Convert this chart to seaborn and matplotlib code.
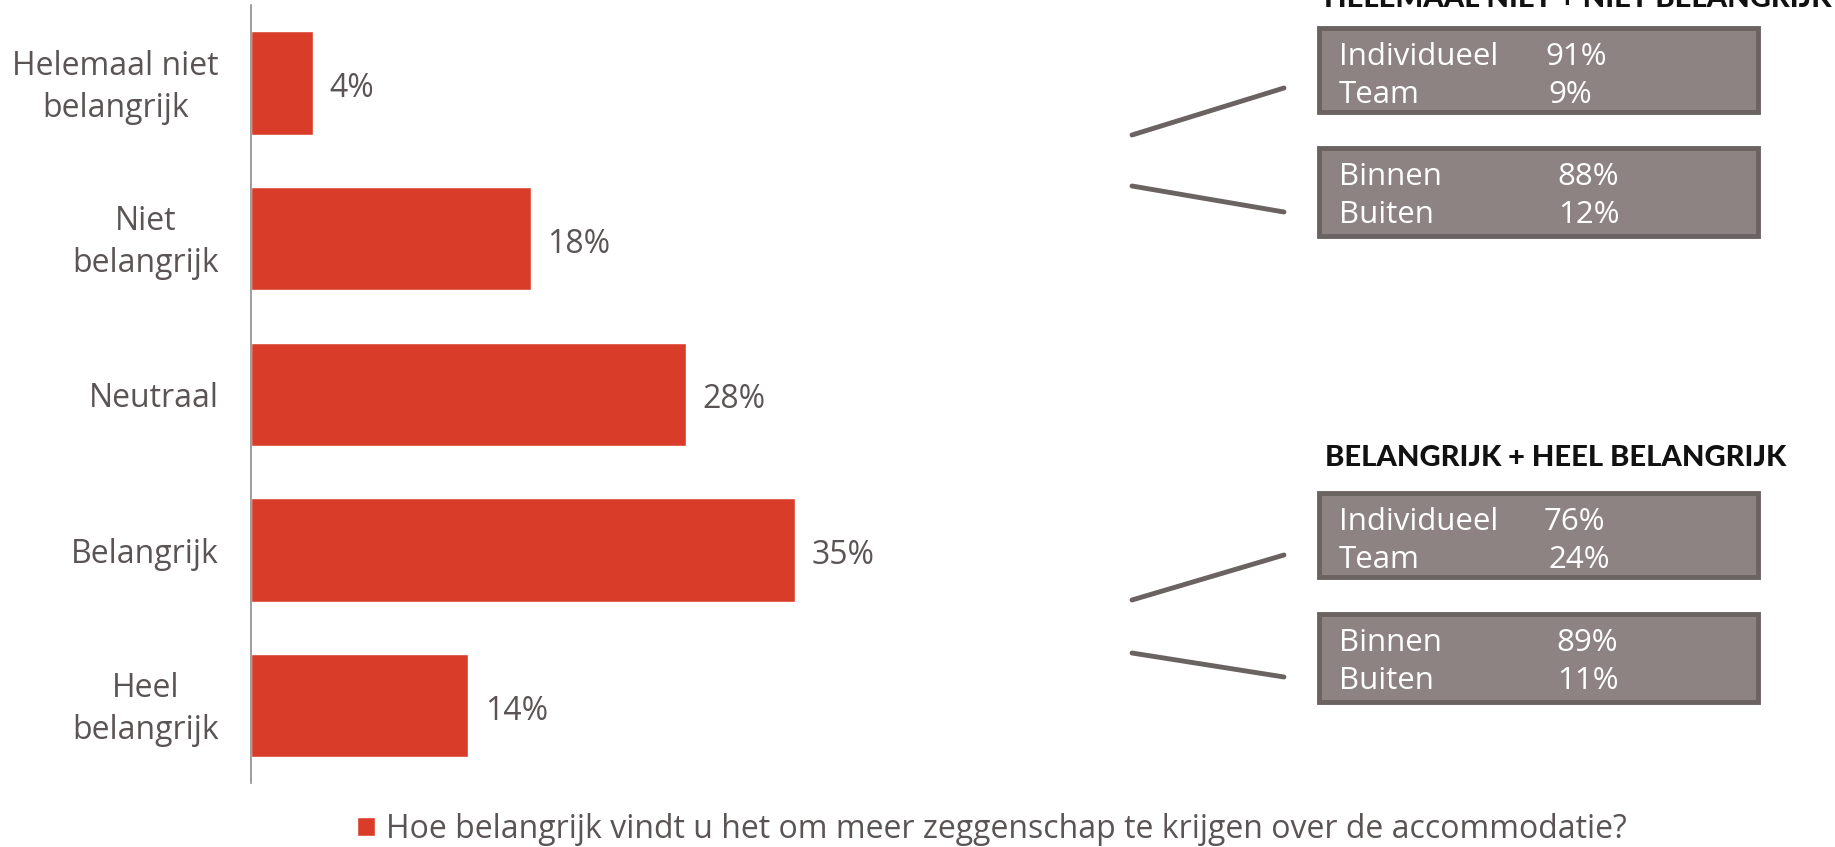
import matplotlib
matplotlib.use("Agg")
from matplotlib import pyplot as plt
from matplotlib.patches import Rectangle
from matplotlib.lines import Line2D
from matplotlib.transforms import ScaledTranslation
import pandas as pd
import seaborn as sns

# data
categories = ['Helemaal niet\nbelangrijk', 'Niet\nbelangrijk', 'Neutraal',
              'Belangrijk', 'Heel\nbelangrijk']
values = [4, 18, 28, 35, 14]
question = 'Hoe belangrijk vindt u het om meer zeggenschap te krijgen over de accommodatie?'

group_titles = ['HELEMAAL NIET + NIET BELANGRIJK', 'BELANGRIJK + HEEL BELANGRIJK']
split_labels = [['Individueel', 'Team'], ['Binnen', 'Buiten'],
                ['Individueel', 'Team'], ['Binnen', 'Buiten']]
split_values = [[91, 9], [88, 12], [76, 24], [89, 11]]

RED = '#d93d2a'
TEXT = '#5a5454'
BOX_FILL = '#8e8383'
BOX_EDGE = '#6b6262'

W, H = 1835, 847

sns.set_theme(style='white')
plt.rcParams['font.family'] = ['Open Sans', 'DejaVu Sans']

fig = plt.figure(figsize=(W / 100, H / 100), dpi=100)


def fx(x):
    return x / W


def fy(y):
    return 1 - y / H


# main bar chart
ax = fig.add_axes([fx(250.5), fy(783.3), 778 / W, 778 / H])
df = pd.DataFrame({'categorie': categories, 'waarde': values, 'vraag': question})
sns.barplot(data=df, y='categorie', x='waarde', hue='vraag', palette=[RED],
            width=0.665, orient='h', ax=ax, saturation=1)

ax.set_xlim(0, 50)
ax.set_ylim(4.5, -0.5)
ax.set_xlabel('')
ax.set_ylabel('')
ax.set_xticks([])
sns.despine(ax=ax, top=True, right=True, bottom=True, left=False)
ax.spines['left'].set_color('#8c8c8c')
ax.spines['left'].set_linewidth(1.2)
ax.tick_params(axis='y', length=0, pad=23, labelsize=23, labelcolor=TEXT)
shift_down = ScaledTranslation(0, -3 / 72, fig.dpi_scale_trans)
for lbl in ax.get_yticklabels():
    lbl.set_horizontalalignment('right')
    lbl.set_multialignment('center')
    lbl.set_verticalalignment('center')
    lbl.set_linespacing(1.35)
    lbl.set_transform(lbl.get_transform() + shift_down)

for i, v in enumerate(values):
    ax.annotate(f'{v}%', xy=(v, i), xytext=(12, -4), textcoords='offset points',
                va='center', ha='left', fontsize=23, color=TEXT)

sns.move_legend(ax, 'center', bbox_to_anchor=(fx(992), fy(829)),
                bbox_transform=fig.transFigure, frameon=False, title=None,
                fontsize=23, handlelength=0.55, handleheight=0.55,
                handletextpad=0.35, labelcolor=TEXT)

# right side split boxes
box_tops = [28, 148, 493, 614]
box_heights = [84, 88, 84, 88]
pct_x = [[1545, 1548], [1557, 1558], [1544, 1548], [1556, 1557]]
for k in range(4):
    top = box_tops[k]
    h = box_heights[k]
    fig.patches.append(Rectangle((fx(1319), fy(top + h)), 439 / W, h / H,
                                 transform=fig.transFigure, facecolor=BOX_FILL,
                                 edgecolor=BOX_EDGE, linewidth=3.5))
    for r in range(2):
        base = top + 37 + 38 * r
        fig.text(fx(1339), fy(base), split_labels[k][r], color='white',
                 fontsize=22.5, va='baseline', ha='left')
        fig.text(fx(pct_x[k][r]), fy(base), f'{split_values[k][r]}%',
                 color='white', fontsize=22.5, va='baseline', ha='left')

# connector lines
connectors = [((1132, 135), (1284, 88)), ((1132, 186), (1284, 212)),
              ((1132, 600), (1284, 555)), ((1132, 653), (1284, 677))]
for (x0, y0), (x1, y1) in connectors:
    fig.lines.append(Line2D([fx(x0), fx(x1)], [fy(y0), fy(y1)],
                            transform=fig.transFigure, color=BOX_EDGE,
                            linewidth=3.5))

# group titles (the first one is cut off at the top, as in the original)
fig.text(fx(1324), fy(7), group_titles[0], fontsize=21, fontweight='black',
         family=['Lato', 'DejaVu Sans'], color='#111111', va='baseline')
fig.text(fx(1325), fy(466), group_titles[1], fontsize=21, fontweight='black',
         family=['Lato', 'DejaVu Sans'], color='#111111', va='baseline')

fig.savefig('out.png', dpi=100)
